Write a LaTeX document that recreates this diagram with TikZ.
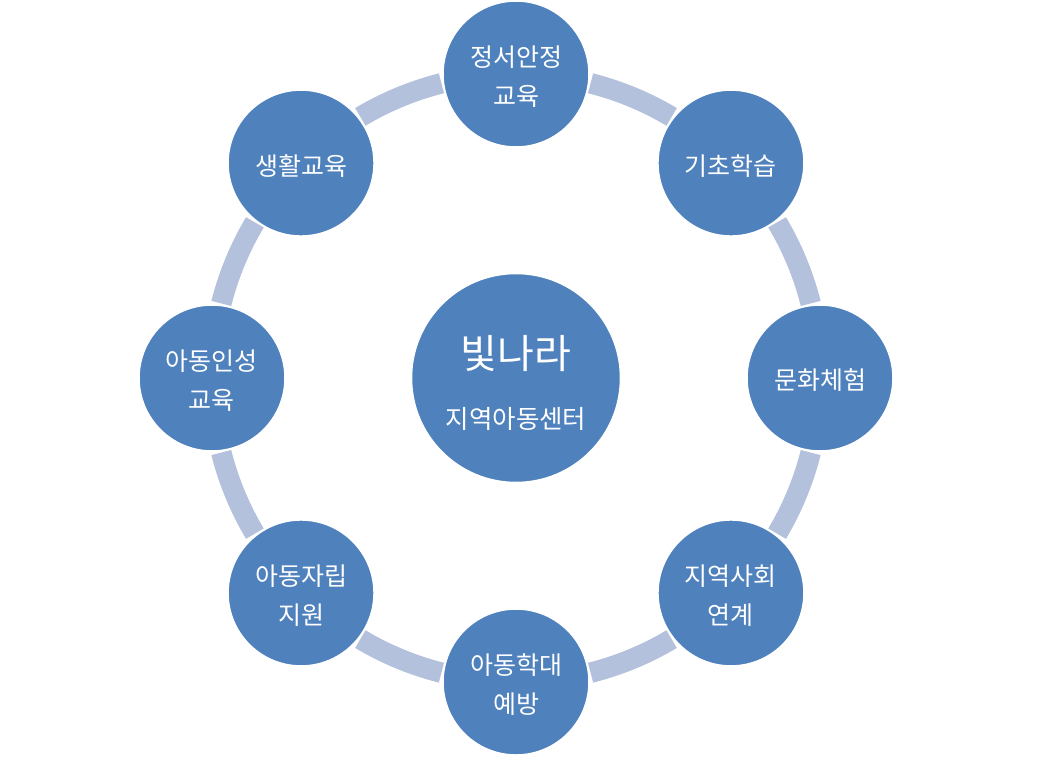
\documentclass[tikz,border=0pt]{standalone}
\usepackage{fontspec}
\setmainfont{Noto Sans CJK KR}
\definecolor{nodeblue}{HTML}{4F81BD}
\definecolor{ringblue}{HTML}{B3C1DC}
\begin{document}
\begin{tikzpicture}[x=1pt,y=1pt,
  outer/.style={circle, fill=nodeblue, draw=white, line width=1.5pt, minimum size=146pt, inner sep=0pt},
  lbl/.style={text=white, inner sep=0pt, align=center, font=\fontsize{25}{39}\selectfont},
  hubstyle/.style={circle, fill=nodeblue, draw=white, line width=1.5pt, minimum size=209pt, inner sep=0pt},
  hubtext/.style={text=white, inner sep=0pt},
  ringseg/.style={draw=ringblue, line width=20.5pt}]
\useasboundingbox (-516,-380) rectangle (524,378);
% ring segments
\foreach \a in {90,45,0,-45,-90,-135,-180,-225}{
  \draw[ringseg] ({\a-14.2}:304) arc[start angle={\a-14.2}, end angle={\a-30.8}, radius=304];
}
% hub
\node[hubstyle] (hub) at (0,0) {};
\node[hubtext, font=\fontsize{40}{46}\selectfont] (hubtitle) at ([yshift=24]hub.center) {빛나라};
\node[hubtext, font=\fontsize{25.5}{30}\selectfont] (hubsub) at ([yshift=-41]hub.center) {지역아동센터};
% outer circles
\node[outer] (n1) at (90:304) {};
\node[outer] (n2) at (45:304) {};
\node[outer] (n3) at (0:304) {};
\node[outer] (n4) at (-45:304) {};
\node[outer] (n5) at (-90:304) {};
\node[outer] (n6) at (-135:304) {};
\node[outer] (n7) at (180:304) {};
\node[outer] (n8) at (135:304) {};
% labels
\node[lbl] (t1) at ([yshift=-3]n1.center) {정서안정\\교육};
\node[lbl] (t2) at ([yshift=-3]n2.center) {기초학습};
\node[lbl] (t3) at ([yshift=-2]n3.center) {문화체험};
\node[lbl] (t4) at ([yshift=-3]n4.center) {지역사회\\연계};
\node[lbl] (t5) at ([yshift=-3]n5.center) {아동학대\\예방};
\node[lbl] (t6) at ([yshift=-3]n6.center) {아동자립\\지원};
\node[lbl] (t7) at ([yshift=-3]n7.center) {아동인성\\교육};
\node[lbl] (t8) at ([yshift=-3]n8.center) {생활교육};
\end{tikzpicture}
\end{document}
